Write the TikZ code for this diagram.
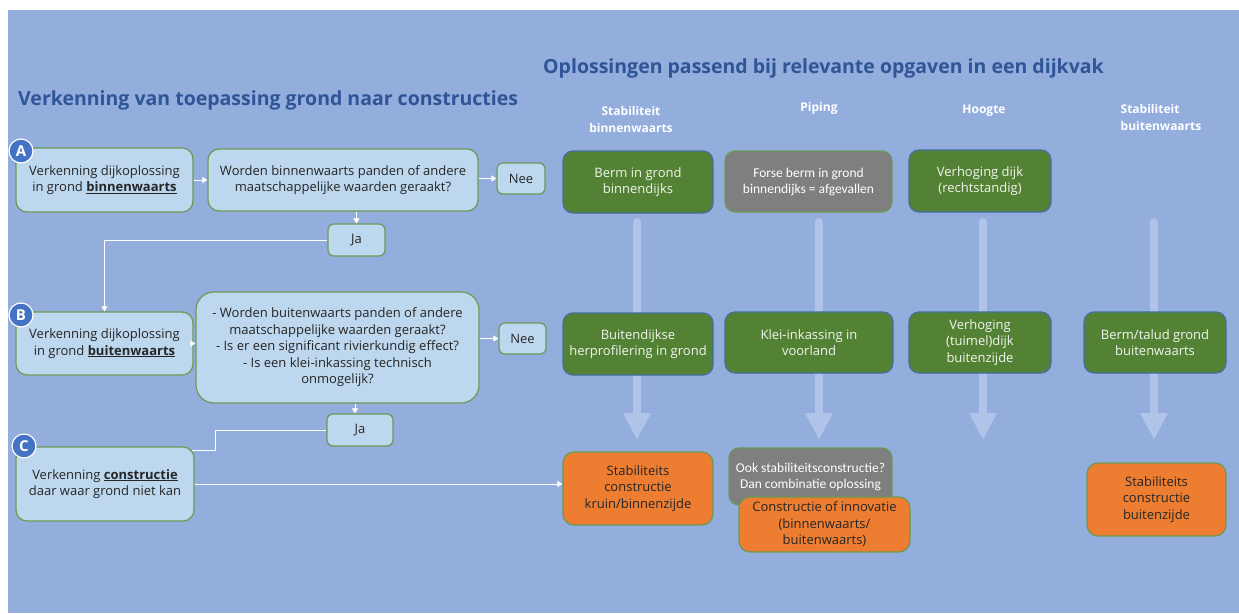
\documentclass[tikz,border=0pt]{standalone}
\usepackage{fontspec}
\setmainfont{Open Sans}
\newfontfamily\smalfont{Carlito}
\usetikzlibrary{arrows.meta}
\definecolor{dijkbg}{HTML}{93ADDD}
\definecolor{dijktitle}{HTML}{2F5597}
\definecolor{dijkpale}{HTML}{BDD7EE}
\definecolor{dijkedge}{HTML}{6A9A55}
\definecolor{dijkgreen}{HTML}{548235}
\definecolor{dijkgreenedge}{HTML}{41719C}
\definecolor{dijkgray}{HTML}{7F7F7F}
\definecolor{dijkorange}{HTML}{ED7D31}
\definecolor{dijkarrow}{HTML}{B0C4EA}
\definecolor{dijkbadge}{HTML}{4472C4}
\definecolor{dijkink}{HTML}{262626}

\begin{document}
\begin{tikzpicture}[x=1pt,y=-1pt,
  every node/.style={font=\fontsize{13}{16.5}\selectfont,align=center,inner sep=2pt},
  boxsize/.style 2 args={minimum width=#1pt,minimum height=#2pt},
  stepbox/.style={draw=dijkedge,line width=1.2pt,fill=dijkpale,rounded corners=11pt,text=dijkink},
  oplossing/.style={draw=dijkgreenedge,line width=1.2pt,fill=dijkgreen,rounded corners=10pt,text=white!92!dijkgreen},
  afgevallen/.style={draw=dijkedge,line width=1.2pt,fill=dijkgray,rounded corners=10pt,text=white,
    font=\smalfont\fontsize{13.5}{16}\selectfont},
  constructie/.style={draw=dijkedge,line width=1.2pt,fill=dijkorange,rounded corners=11pt,text=dijkink},
  titel/.style={font=\bfseries\fontsize{19.5}{23}\selectfont,text=dijktitle,inner sep=0pt,anchor=west},
  kop/.style={font=\bfseries\fontsize{12}{17}\selectfont,text=white},
  badge/.style={circle,fill=dijkbadge,draw=white,line width=1.2pt,minimum size=24pt,inner sep=0pt,
    text=white,font=\bfseries\fontsize{15}{15}\selectfont},
  flow/.style={white,line width=1pt,-{Triangle[width=6pt,length=5pt]}},
  flowline/.style={white,line width=1pt},
  bigarrow/.style={dijkarrow,line width=8pt,line cap=round,-{Triangle[width=26pt,length=27pt]}}]
\useasboundingbox (0,0) rectangle (1239,613);
\fill[white] (0,0) rectangle (1239,613);
\fill[dijkbg] (8,10) rectangle (1239,613);

% opgave-pijlen
\foreach \n/\x in {stabin/637,piping/819,hoogte/983,stabuit/1154} {
  \coordinate (\n top) at (\x,222);
  \coordinate (\n end) at (\x,440);
  \draw[bigarrow] (\n top) -- (\n end);
}

\node[titel] (titelL) at (18,100) {Verkenning van toepassing grond naar constructies};
\node[titel] (titelR) at (543,68) {Oplossingen passend bij relevante opgaven in een dijkvak};

\node[kop] (kopSB) at (631,119) {Stabiliteit\\binnenwaarts};
\node[kop] (kopPi) at (819,108) {Piping};
\node[kop] (kopHo) at (984,111) {Hoogte};
\node[kop,align=left] (kopSBu) at (1161,117) {Stabiliteit\\buitenwaarts};

% stappen links
\node[stepbox,boxsize={177}{64}] (zoekA) at (104.5,180) {Verkenning dijkoplossing\\in grond \underline{\textbf{binnenwaarts}}};
\node[stepbox,boxsize={270}{62}] (vraagA) at (343,180) {Worden binnenwaarts panden of andere\\maatschappelijke waarden geraakt?};
\node[stepbox,boxsize={48}{31},rounded corners=6pt] (neeA) at (521,178.5) {Nee};
\node[stepbox,boxsize={57}{32},rounded corners=6pt] (jaA) at (356.5,240) {Ja};
\node[stepbox,boxsize={177}{63}] (zoekB) at (104.5,343.5) {Verkenning dijkoplossing\\in grond \underline{\textbf{buitenwaarts}}};
\node[stepbox,boxsize={283}{111},rounded corners=18pt] (vraagB) at (337.5,347.5) {- Worden buitenwaarts panden of andere\\maatschappelijke waarden geraakt?\\- Is er een significant rivierkundig effect?\\- Is een klei-inkassing technisch\\onmogelijk?};
\node[stepbox,boxsize={47}{31},rounded corners=6pt] (neeB) at (522.5,338.5) {Nee};
\node[stepbox,boxsize={66}{32},rounded corners=6pt] (jaB) at (360,430) {Ja};
\node[stepbox,boxsize={178}{74}] (zoekC) at (105,484) {Verkenning \underline{\textbf{constructie}}\\daar waar grond niet kan};

\foreach \n/\l/\x/\y in {badgeA/A/21/151,badgeB/B/21/315,badgeC/C/24/446}
  \node[badge] (\n) at (\x,\y) {\l};

% oplossingen
\node[oplossing,boxsize={150}{62}] (bermBin) at (638,182) {Berm in grond\\binnendijks};
\node[afgevallen,boxsize={167}{61}] (forseBerm) at (808.5,181.5) {Forse berm in grond\\binnendijks = afgevallen};
\node[oplossing,boxsize={142}{62}] (verhDijk) at (980,181) {Verhoging dijk\\(rechtstandig)};
\node[oplossing,boxsize={150}{62}] (herprof) at (638,344) {Buitendijkse\\herprofilering in grond};
\node[oplossing,boxsize={168}{61}] (kleiInk) at (809,342.5) {Klei-inkassing in\\voorland};
\node[oplossing,boxsize={142}{61}] (verhTuimel) at (980,342.5) {Verhoging\\(tuimel)dijk\\buitenzijde};
\node[oplossing,boxsize={142}{61}] (bermBuit) at (1155,342.5) {Berm/talud grond\\buitenwaarts};
\node[constructie,boxsize={150}{73}] (constrKruin) at (638,488.5) {Stabiliteits\\constructie\\kruin/binnenzijde};
\node[afgevallen,boxsize={163}{57}] (ookStab) at (810.5,476.5) {Ook stabiliteitsconstructie?\\Dan combinatie oplossing};
\node[constructie,boxsize={171}{55}] (constrInno) at (824.5,524.5) {Constructie of innovatie\\(binnenwaarts/\\buitenwaarts)};
\node[constructie,boxsize={139}{73}] (constrBuit) at (1156.5,499.5) {Stabiliteits\\constructie\\buitenzijde};

% verbindingen
\draw[flow] (zoekA.east) -- (zoekA.east -| vraagA.west);
\draw[flow] (vraagA.east |- neeA) -- (neeA.west);
\draw[flow] (jaA.north |- vraagA.south) -- (jaA.north);
\draw[flow] (jaA.west) -| (zoekB.north);
\draw[flow] (zoekB.east) -- (zoekB.east -| vraagB.west);
\draw[flow] (vraagB.east |- neeB) -- (neeB.west);
\draw[flow] ([xshift=-5pt]jaB.north |- vraagB.south) -- ([xshift=-5pt]jaB.north);
\draw[flowline] (jaB.west) -- ++(-111,0) |- ([xshift=-3pt,yshift=-4pt]zoekC.north east);
\draw[flow] (zoekC.east) -- (zoekC.east -| constrKruin.west);
\end{tikzpicture}
\end{document}
